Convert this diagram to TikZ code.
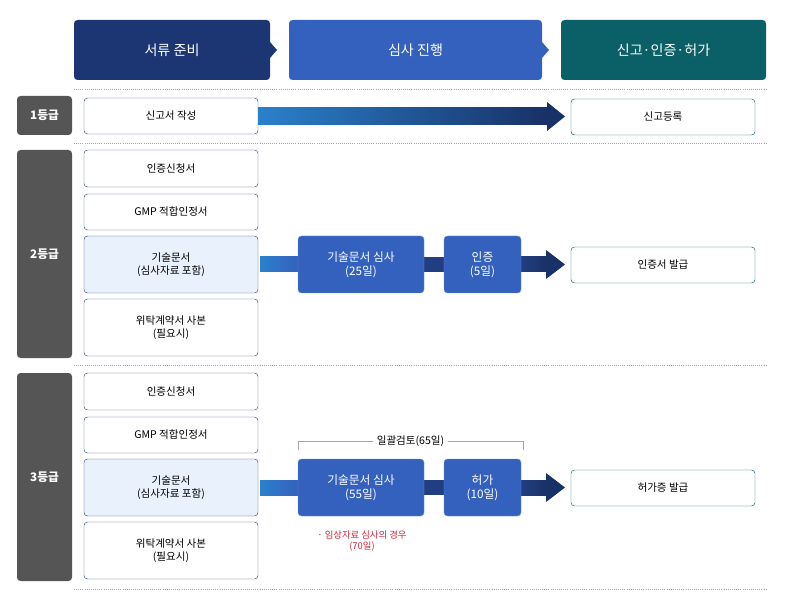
\documentclass[tikz,border=0pt]{standalone}
\usepackage{fontspec}
\setmainfont{Noto Sans CJK KR}
\usetikzlibrary{positioning, arrows.meta, calc}
\definecolor{hdnavy}{HTML}{1B3672}
\definecolor{hdblue}{HTML}{3461BE}
\definecolor{hdteal}{HTML}{0B5F66}
\definecolor{gradebg}{HTML}{555555}
\definecolor{docline}{HTML}{3A4F86}
\definecolor{docfill}{HTML}{E8F1FC}
\definecolor{notered}{HTML}{D0263D}
\tikzset{
  header/.style={rounded corners=3pt, text=white, font=\large, minimum height=60\py},
  grade/.style={fill=gradebg, rounded corners=3pt, text=white, font=\bfseries, minimum width=55\py},
  doc/.style={draw=docline, fill=white, rounded corners=3pt, minimum width=174\py, align=center, font=\small},
  result/.style={draw=hdteal, fill=white, rounded corners=3pt, minimum width=184\py, minimum height=36\py, font=\small},
  review/.style={fill=hdblue, draw=hdblue!70!white, rounded corners=3pt, text=white, align=center},
  sep/.style={densely dotted, gray!70, line width=0.8pt},
}
\newcommand{\py}{*0.03cm}
\begin{document}
\begin{tikzpicture}[x=0.03cm, y=-0.03cm]
\useasboundingbox (0,0) rectangle (795,601);

% headers
\node[header, fill=hdnavy, minimum width=196\py] (hdoc) at (172,50) {서류 준비};
\node[header, fill=hdblue, minimum width=253\py] (hrev) at (415.5,50) {심사 진행};
\node[header, fill=hdteal, minimum width=205\py] (hfin) at (663.5,50) {신고·인증·허가};
\fill[hdnavy] (270,42) -- (277,50) -- (270,58) -- cycle;
\fill[hdblue] (542,42) -- (549,50) -- (542,58) -- cycle;

% separators
\foreach \yy in {89,143,365,589}
  \draw[sep] (74,\yy) -- (766,\yy);

% grade 1
\node[grade, minimum height=39\py] (g1) at (44.5,115.5) {1등급};
\node[doc, minimum height=36\py] (d1) at (171,116) {신고서 작성};
\node[result] (r1) at (663,117) {신고등록};
\shade[left color=hdblue!80!cyan, right color=hdnavy!90!black] (258,108) rectangle (548,125);
\fill[hdnavy!90!black] (547,102) -- (565,116.5) -- (547,131) -- cycle;

% grade 2 and 3
\foreach \g/\dy in {2/0,3/223}{
  \node[grade, minimum height=208\py] (g\g) at (44.5,254+\dy) {{\g}등급};
  \node[doc, minimum height=37\py] (a\g) at (171,168.5+\dy) {인증신청서};
  \node[doc, minimum height=36\py] (b\g) at (171,212+\dy) {GMP 적합인정서};
  \node[doc, fill=docfill, minimum height=57\py] (c\g) at (171,264.5+\dy) {기술문서\\(심사자료 포함)};
  \node[doc, minimum height=57\py] (e\g) at (171,327.5+\dy) {위탁계약서 사본\\(필요시)};
  \shade[left color=hdblue!80!cyan, right color=hdblue] (260,257+\dy) rectangle (298,272+\dy);
  \fill[hdnavy!80!hdblue] (424,257+\dy) rectangle (444,272+\dy);
  \shade[left color=hdnavy!80!hdblue, right color=hdnavy!90!black] (521,257+\dy) rectangle (547,272+\dy);
  \fill[hdnavy!90!black] (546,250+\dy) -- (565,264.5+\dy) -- (546,279+\dy) -- cycle;
}
\node[review, minimum width=126\py, minimum height=57\py] (s2) at (361,264.5) {기술문서 심사\\(25일)};
\node[review, minimum width=77\py, minimum height=57\py] (t2) at (482.5,264.5) {인증\\(5일)};
\node[result] (r2) at (663,265) {인증서 발급};

\node[review, minimum width=126\py, minimum height=57\py] (s3) at (361,487.5) {기술문서 심사\\(55일)};
\node[review, minimum width=77\py, minimum height=57\py] (t3) at (482.5,487.5) {허가\\(10일)};
\node[result] (r3) at (663,488) {허가증 발급};

% bracket
\node[font=\small, fill=white, inner xsep=3pt] (all) at (410.5,441) {일괄검토(65일)};
\draw[gray!70] (298,450) -- (298,441) -- (all.west);
\draw[gray!70] (all.east) -- (523,441) -- (523,450);
\node[text=notered, font=\footnotesize, align=center] (note) at (362,541) {· 임상자료 심사의 경우\\(70일)};
\end{tikzpicture}
\end{document}
